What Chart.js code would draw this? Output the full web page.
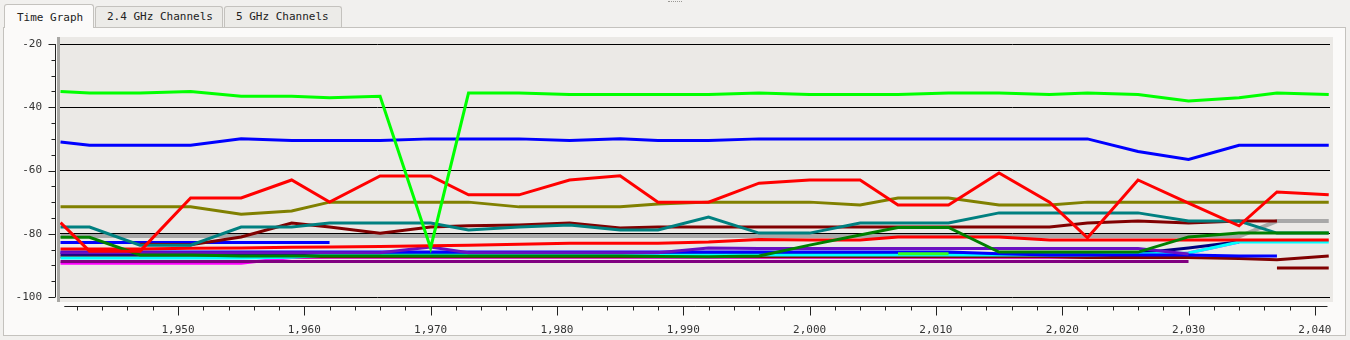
<!DOCTYPE html>
<html>
<head>
<meta charset="utf-8">
<script src="https://cdn.jsdelivr.net/npm/chart.js@4.4.1/dist/chart.umd.min.js"></script>
<style>
  html, body { margin: 0; padding: 0; }
  body { width: 1350px; height: 340px; background: #f1f0ee; position: relative; overflow: hidden;
         font-family: "DejaVu Sans Mono", monospace; font-size: 11px; color: #222; }
  .grip { position: absolute; left: 668px; top: 1px; width: 14px; border-top: 1px dotted #9a9894; }
  .tab { position: absolute; box-sizing: border-box; border: 1px solid #c4c2be; border-bottom: none;
         border-radius: 3px 3px 0 0; background: #ecebe8; padding-left: 11px; line-height: 19px; }
  .tab.active { background: #fbfaf9; top: 4px; height: 24px; line-height: 25px; padding-left: 12px; z-index: 2; }
  .tab.idle { top: 6px; height: 21px; }
  #panel { position: absolute; left: 3px; top: 27px; width: 1343px; height: 309px; box-sizing: border-box;
           border: 1px solid #c4c2be; background: #fbfaf9; }
  #chart { position: absolute; left: 0; top: 0; }
</style>
</head>
<body>
<div class="grip"></div>
<div class="tab active" style="left:4px;width:90px">Time Graph</div>
<div class="tab idle" style="left:95px;width:128px">2.4 GHz Channels</div>
<div class="tab idle" style="left:224px;width:118px">5 GHz Channels</div>
<div id="panel"></div>
<canvas id="chart" width="1350" height="340"></canvas>
<script>
// sample times (seconds)
var times = [1940.7, 1943, 1947, 1951, 1955, 1959, 1962, 1966, 1970, 1973, 1977, 1981, 1985, 1988,
             1992, 1996, 2000, 2004, 2007, 2011, 2015, 2019, 2022, 2026, 2030, 2034, 2037, 2041.1];

var xTicks = [1950, 1960, 1970, 1980, 1990, 2000, 2010, 2020, 2030, 2040];
var yTicks = [-100, -80, -60, -40, -20];

// signal levels (dBm), one list per network
var lime    = [-35, -35.5, -35.5, -35, -36.5, -36.5, -37, -36.5, -84.5, -35.5, -35.5, -36, -36, -36,
               -36, -35.5, -36, -36, -36, -35.5, -35.5, -36, -35.5, -36, -38, -37, -35.5, -36];
var blue    = [-51, -52, -52, -52, -50, -50.5, -50.5, -50.5, -50, -50, -50, -50.5, -50, -50.5,
               -50.5, -50, -50, -50, -50, -50, -50, -50, -50, -54, -56.5, -52, -52, -52];
var red     = [-76.5, -85.5, -85.5, -68.7, -68.7, -63, -70, -61.7, -61.7, -67.7, -67.7, -63, -61.7, -70,
               -70, -64, -63, -63, -70.9, -70.9, -60.8, -70, -81.3, -63, -70.3, -77.5, -66.8, -67.7];
var olive   = [-71.5, -71.5, -71.5, -71.5, -73.8, -72.8, -70, -70, -70, -70, -71.5, -71.5, -71.5, -70.6,
               -70, -70, -70, -70.9, -68.7, -68.7, -70.9, -70.9, -70, -70, -70, -70, -70, -70];
var green   = [-81.1, -81.1, -86.7, -86.7, -87, -87, -87, -87, -87, -87, -87, -87, -87, -87.2,
               -87.3, -87, -83.6, -80.4, -78, -78, -85.8, -85.8, -85.8, -85.8, -81, -79.8, -79.8, -79.8];
var teal    = [-77.9, -77.9, -83.6, -83.6, -77.9, -77.9, -76.6, -76.6, -76.6, -78.8, -77.9, -77.2, -78.8, -78.8,
               -74.7, -79.8, -79.8, -76.6, -76.6, -76.6, -73.4, -73.4, -73.4, -73.4, -76, -76, -79.8, -79.8];
var maroon  = [null, null, -83.3, -83.5, -81, -76.6, -77.9, -79.8, -77.9, -77.5, -77.2, -76.6, -78.2, -77.9,
               -77.9, -77.9, -77.9, -77.9, -77.9, -77.9, -77.9, -77.9, -76.6, -76, -76.6, -76, -76, null];
var red2    = [-84.8, -84.8, -84.8, -84.6, -84.5, -84.3, -84.2, -84, -83.8, -83.6, -83.3, -83, -83, -83,
               -82.6, -81.8, -82, -82, -81, -81, -81, -82, -82, -82, -82, -82, -82, -82];
var blue2   = [-82.8, -82.8, -82.8, -82.8, -82.8, -82.8, -82.8, null, null, null, null, null, null, null,
               null, null, null, null, null, null, null, null, null, null, null, null, null, null];
var violet  = [-86, -86, -86, -86, -86, -86, -86, -86, -84.2, -86, -86, -86, -86, -86,
               -84.5, -84.7, -84.7, -84.7, -84.7, -84.7, -84.7, -84.7, -84.7, -84.7, -86.4, null, null, null];
var cyan    = [-87.7, -87.7, -87.7, -87.7, -87.7, -87.4, -86.7, -86.7, -86.7, -86.7, -86.7, -86.7, -86.7, -86.7,
               -86.7, -86.7, -86.7, -86.7, -86.7, -86.7, -86.7, -86.7, -86.7, -86.4, -86.1, -82.6, -82.6, -82.6];
var magenta = [-89.3, -89.3, -89.3, -89.3, -89.3, -87.5, -87.4, -87.4, -87.4, -87.4, -87.4, -87.4, -87.4, -87.4,
               -87.4, -87.4, -87.4, -87.4, -87.4, -87.4, -87.4, -87.4, -87.4, -87.4, -86.1, -82.6, null, null];
var blue3   = [-85.8, -85.8, -85.8, -85.8, -85.8, -85.8, -85.8, -85.8, -85.8, -85.8, -85.8, -85.8, -85.8, -85.8,
               -85.8, -85.8, -85.8, -85.8, -85.8, -85.8, -86.3, -86.7, -86.7, -86.7, -86.7, -87, -87, null];
var navy    = [-86.5, -86.5, -86.5, -86.5, -86.5, -86.5, -86.5, -86.5, -86.5, -86.5, -86.5, -86.5, -86.5, -86.5,
               -86.5, -86.5, -86.5, -86.5, -86.5, -86.5, -86.5, -86.5, -86.5, -86.2, -84.5, -82.5, null, null];
var maroon2 = [-87.3, -87.3, -87.3, -87.3, -87.3, -87.3, -87.3, -87.3, -87.3, -87.3, -87.3, -87.3, -87.3, -87.3,
               -87.3, -87.3, -87.3, -87.3, -87.3, -87.3, -87.3, -87.3, -87.5, -87.5, -87.5, -87.8, -88.2, -87];
var purple  = [-88.8, -88.8, -88.8, -88.8, -88.8, -88.8, -88.8, -88.8, -88.8, -88.8, -88.8, -88.8, -88.8, -88.8,
               -88.8, -88.8, -88.8, -88.8, -88.8, -88.8, -88.8, -88.8, -88.8, -88.8, -88.8, null, null, null];
var grey    = [-80.7, -80.7, -80.7, -80.7, -80.7, -80.7, -80.7, -80.7, -80.7, -80.7, -80.7, -80.7, -80.7, -80.7,
               -80.7, -80.7, -80.7, -80.7, -80.7, -80.7, -80.7, -80.7, -80.7, -80.7, -80.7, -80.9, -76, -76];
var lime2   = [null, null, null, null, null, null, null, null, null, null, null, null, null, null,
               null, null, null, null, -86.3, -86.3, null, null, null, null, null, null, null, null];
var maroon3 = [null, null, null, null, null, null, null, null, null, null, null, null, null, null,
               null, null, null, null, null, null, null, null, null, null, null, null, -90.8, -90.8];

// first entry ends up on top
var series = [
  [lime, '#00ff00', 3],
  [red, '#ff0000', 3],
  [blue, '#0000ff', 3],
  [olive, '#808000', 3],
  [green, '#008000', 3],
  [teal, '#008080', 3],
  [maroon, '#800000', 3],
  [red2, '#ff0000', 3],
  [blue2, '#0000ff', 3],
  [lime2, '#33ff22', 3],
  [violet, '#6a10c0', 3],
  [blue3, '#0000ff', 3],
  [cyan, '#00ffff', 3],
  [navy, '#000080', 3],
  [maroon2, '#800000', 3],
  [purple, '#800080', 3],
  [magenta, '#ff00ff', 3],
  [maroon3, '#800000', 3],
  [grey, '#a8a8a8', 4]
];

function toPoints(vals) {
  return times.map((t, i) => ({x: t, y: vals[i]}));
}

var font = {family: 'DejaVu Sans Mono', size: 11};

var frame = {
  id: 'frame',
  beforeDraw(chart) {
    var ctx = chart.ctx, a = chart.chartArea;
    ctx.save();
    ctx.fillStyle = '#ebe9e6';
    ctx.fillRect(a.left - 3, a.top - 7, a.right - a.left + 6, a.bottom - a.top + 12);
    ctx.fillStyle = '#a9a8a5';
    ctx.fillRect(a.left - 3, a.top - 7, 3, a.bottom - a.top + 12);
    ctx.restore();
  },
  afterDraw(chart) {
    var ctx = chart.ctx, a = chart.chartArea;
    var xs = chart.scales.x, ys = chart.scales.y;
    ctx.save();
    ctx.strokeStyle = '#222';
    ctx.lineWidth = 1;
    ctx.beginPath();
    // y axis with minor ticks every 5
    var ax = a.left - 4.5;
    ctx.moveTo(ax, ys.getPixelForValue(-20));
    ctx.lineTo(ax, ys.getPixelForValue(-100));
    for (var v = -100; v <= -20; v += 5) {
      var py = Math.round(ys.getPixelForValue(v)) + 0.5;
      ctx.moveTo(v % 20 === 0 ? ax - 7 : ax - 4, py);
      ctx.lineTo(ax, py);
    }
    // x axis with minor ticks every 2
    var ay = a.bottom + 9.5;
    ctx.moveTo(xs.getPixelForValue(1941), ay);
    ctx.lineTo(xs.getPixelForValue(2041), ay);
    for (var t = 1942; t <= 2040; t += 2) {
      var px = Math.round(xs.getPixelForValue(t)) + 0.5;
      ctx.moveTo(px, ay);
      ctx.lineTo(px, t % 10 === 0 ? ay + 9 : ay + 4);
    }
    ctx.stroke();
    ctx.restore();
  }
};

new Chart(document.getElementById('chart').getContext('2d'), {
  type: 'line',
  data: {
    datasets: series.map(function (s) {
      return {data: toPoints(s[0]), borderColor: s[1], borderWidth: s[2], spanGaps: false};
    })
  },
  options: {
    responsive: false,
    animation: false,
    layout: {padding: {top: 44, right: 20, left: 0, bottom: 0}},
    plugins: {legend: {display: false}, tooltip: {enabled: false}},
    elements: {point: {radius: 0}, line: {tension: 0, borderCapStyle: 'butt', borderJoinStyle: 'miter'}},
    scales: {
      x: {
        type: 'linear', min: 1940.66, max: 2041.2,
        afterFit: function (s) { s.height = 43; s.paddingLeft = 0; s.paddingRight = 0; },
        afterBuildTicks: function (s) { s.ticks = xTicks.map(v => ({value: v})); },
        grid: {display: false},
        border: {display: false},
        ticks: {font: font, color: '#333', padding: 19, maxRotation: 0, autoSkip: false,
                callback: v => v.toLocaleString('en-US')}
      },
      y: {
        type: 'linear', min: -100, max: -20,
        afterFit: function (s) { s.width = 60; s.paddingTop = 0; s.paddingBottom = 0; },
        afterBuildTicks: function (s) { s.ticks = yTicks.map(v => ({value: v})); },
        grid: {color: '#000', lineWidth: 1, drawTicks: false},
        border: {display: false},
        ticks: {font: font, color: '#333', padding: 18, callback: v => String(v)}
      }
    }
  },
  plugins: [frame]
});
</script>
</body>
</html>
